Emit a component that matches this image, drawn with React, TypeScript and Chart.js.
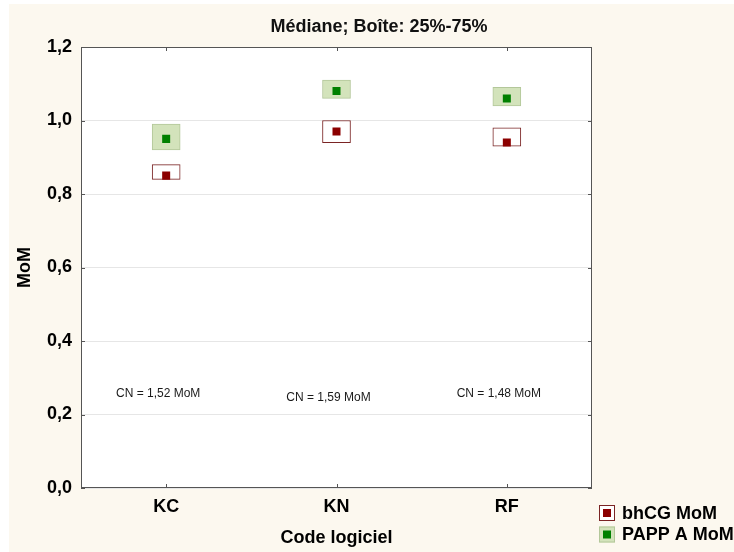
import React, { useEffect, useRef } from "react";
import { Chart, registerables } from "chart.js";

Chart.register(...registerables);

const categories = ["KC", "KN", "RF"];
const bhcgQ1 = [0.84, 0.94, 0.93];
const bhcgQ3 = [0.88, 1.0, 0.98];
const bhcgMedian = [0.85, 0.97, 0.94];
const pappQ1 = [0.92, 1.06, 1.04];
const pappQ3 = [0.99, 1.11, 1.09];
const pappMedian = [0.95, 1.08, 1.06];
const cnLabels = ["CN = 1,52 MoM", "CN = 1,59 MoM", "CN = 1,48 MoM"];
const cnLabelY = [0.256, 0.246, 0.257];
const seriesNames = ["bhCG MoM", "PAPP A MoM"];
const chartTitle = "Médiane; Boîte: 25%-75%";
const xTitle = "Code logiciel";
const yTitle = "MoM";

const FONT = "'Liberation Sans', Arial, sans-serif";
const CREAM = "#fcf8ef";
const RED = "#8b0000";
const RED_BORDER = "#7a2424";
const GREEN = "#008000";
const GREEN_FILL = "#d3e3bb";
const GREEN_BORDER = "#b3c79a";

const legendStyles = [
  { fill: "#ffffff", border: RED_BORDER, inner: RED },
  { fill: GREEN_FILL, border: GREEN_BORDER, inner: GREEN },
];

const bgPlugin = {
  id: "bgPlugin",
  beforeDraw(chart: any) {
    const { ctx, chartArea: a, width, height } = chart;
    ctx.save();
    ctx.fillStyle = CREAM;
    ctx.fillRect(0, 0, width, height);
    ctx.fillStyle = "#ffffff";
    ctx.fillRect(a.left, a.top, a.right - a.left, a.bottom - a.top);
    ctx.restore();
  },
};

const framePlugin = {
  id: "framePlugin",
  afterDraw(chart: any) {
    const { ctx, chartArea: a, width } = chart;
    const xs = chart.scales.x;
    const ys = chart.scales.y;
    ctx.save();
    ctx.strokeStyle = "#555555";
    ctx.lineWidth = 1;
    ctx.strokeRect(Math.round(a.left) + 0.5, Math.round(a.top) + 0.5, Math.round(a.right - a.left) - 1, Math.round(a.bottom - a.top) - 1);
    // inside ticks
    ctx.beginPath();
    categories.forEach((_, i) => {
      const px = Math.round(xs.getPixelForValue(i)) + 0.5;
      ctx.moveTo(px, a.bottom);
      ctx.lineTo(px, a.bottom - 4);
      ctx.moveTo(px, a.top);
      ctx.lineTo(px, a.top + 4);
    });
    ys.ticks.forEach((t: any) => {
      const py = Math.round(ys.getPixelForValue(t.value)) + 0.5;
      ctx.moveTo(a.left, py);
      ctx.lineTo(a.left + 4, py);
      ctx.moveTo(a.right, py);
      ctx.lineTo(a.right - 4, py);
    });
    ctx.stroke();

    // title, centred on the whole canvas
    ctx.fillStyle = "#111111";
    ctx.font = `bold 18px ${FONT}`;
    ctx.textAlign = "center";
    ctx.textBaseline = "middle";
    ctx.fillText(chartTitle, width / 2, 23);

    // CN annotations
    ctx.fillStyle = "#1a1a1a";
    ctx.font = `12px ${FONT}`;
    cnLabels.forEach((lbl, i) => {
      ctx.fillText(lbl, xs.getPixelForValue(i) - 8, ys.getPixelForValue(cnLabelY[i]));
    });

    // legend
    ctx.font = `bold 18px ${FONT}`;
    ctx.textAlign = "left";
    seriesNames.forEach((name, i) => {
      const cy = a.bottom + 25 + i * 21.5;
      const bx = a.right + 7;
      const st = legendStyles[i];
      ctx.fillStyle = st.fill;
      ctx.fillRect(bx, cy - 8, 16, 16);
      ctx.strokeStyle = st.border;
      ctx.strokeRect(bx + 0.5, cy - 7.5, 15, 15);
      ctx.fillStyle = st.inner;
      ctx.fillRect(bx + 4, cy - 4, 8, 8);
      ctx.fillStyle = "#000000";
      ctx.fillText(name, a.right + 30, cy + 1);
    });
    ctx.restore();
  },
};

export default function App() {
  const ref = useRef<HTMLCanvasElement | null>(null);

  useEffect(() => {
    if (!ref.current) return;
    const chart = new Chart(ref.current, {
      type: "bar",
      data: {
        labels: categories,
        datasets: [
          {
            type: "line",
            label: seriesNames[0] + " median",
            data: bhcgMedian,
            showLine: false,
            pointStyle: "rect",
            pointRadius: 5.66,
            pointBackgroundColor: RED,
            pointBorderWidth: 0,
            order: 0,
          } as any,
          {
            type: "line",
            label: seriesNames[1] + " median",
            data: pappMedian,
            showLine: false,
            pointStyle: "rect",
            pointRadius: 5.66,
            pointBackgroundColor: GREEN,
            pointBorderWidth: 0,
            order: 0,
          } as any,
          {
            type: "bar",
            label: seriesNames[0],
            data: categories.map((_, i) => [bhcgQ1[i], bhcgQ3[i]]),
            backgroundColor: "#ffffff",
            borderColor: RED_BORDER,
            borderWidth: 1,
            borderSkipped: false,
            barThickness: 28,
            grouped: false,
            order: 2,
          } as any,
          {
            type: "bar",
            label: seriesNames[1],
            data: categories.map((_, i) => [pappQ1[i], pappQ3[i]]),
            backgroundColor: GREEN_FILL,
            borderColor: GREEN_BORDER,
            borderWidth: 1,
            borderSkipped: false,
            barThickness: 28,
            grouped: false,
            order: 1,
          } as any,
        ],
      },
      options: {
        animation: false,
        responsive: false,
        devicePixelRatio: 1,
        layout: { padding: { left: 0, top: 0, right: 157, bottom: 0 } },
        plugins: {
          legend: { display: false },
          tooltip: { enabled: false },
          title: {
            display: true,
            text: chartTitle,
            color: "rgba(0,0,0,0)",
            font: { family: FONT, size: 18, weight: "bold" },
            padding: { top: 9.7, bottom: 11.7 },
          },
        },
        scales: {
          x: {
            type: "category",
            offset: true,
            grid: { display: false, offset: false, drawTicks: false },
            border: { display: false },
            ticks: {
              color: "#000000",
              font: { family: FONT, size: 18, weight: "bold" },
              padding: 8.5,
            },
            title: {
              display: true,
              text: xTitle,
              color: "#000000",
              font: { family: FONT, size: 18, weight: "bold" },
              padding: { top: 0, bottom: 3.6 },
            },
            afterFit(scale: any) {
              scale.height = 64;
            },
          },
          y: {
            type: "linear",
            min: 0,
            max: 1.2,
            grid: { color: "#e6e6e6", drawTicks: false },
            border: { display: false },
            ticks: {
              stepSize: 0.2,
              color: "#000000",
              font: { family: FONT, size: 18, weight: "bold" },
              padding: 9,
              callback: (v: any) => Number(v).toFixed(1).replace(".", ","),
            },
            title: {
              display: true,
              text: yTitle,
              color: "#000000",
              font: { family: FONT, size: 18, weight: "bold" },
              padding: { top: 5.2, bottom: 0 },
            },
            afterFit(scale: any) {
              scale.width = 72;
            },
          },
        },
      },
      plugins: [bgPlugin, framePlugin],
    });
    return () => chart.destroy();
  }, []);

  return (
    <div
      style={{
        position: "absolute",
        left: 9,
        top: 4,
        width: 725,
        height: 548,
        overflow: "hidden",
      }}
    >
      <canvas ref={ref} width={740} height={548} style={{ display: "block" }} />
    </div>
  );
}
